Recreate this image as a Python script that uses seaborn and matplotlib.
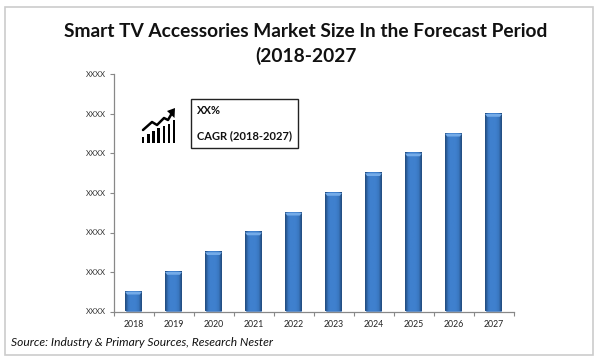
import numpy as np
import pandas as pd
import seaborn as sns
import matplotlib
matplotlib.use("Agg")
from matplotlib import pyplot as plt
from matplotlib.patches import Rectangle, Polygon

years = ["2018", "2019", "2020", "2021", "2022", "2023", "2024", "2025", "2026", "2027"]
values = [0.5, 1.0, 1.5, 2.0, 2.5, 3.0, 3.5, 4.0, 4.5, 5.0]
y_ticks = [0, 1, 2, 3, 4, 5, 6]
y_labels = ["XXXX"] * 7
title = "Smart TV Accessories Market Size In the Forecast Period\n(2018-2027"
source = "Source: Industry & Primary Sources, Research Nester"
cagr_value = "XX%"
cagr_label = "CAGR (2018-2027)"

W, H = 600, 363

sns.set_theme(style="white")
plt.rcParams["font.family"] = ["Lato", "DejaVu Sans"]

fig = plt.figure(figsize=(W / 100, H / 100), dpi=100, facecolor="white")

# plot area, pixel box
ax = fig.add_axes([113.5 / W, 1 - 311.5 / H, 400 / W, 237 / H])
data = pd.DataFrame({"year": years, "value": values})
sns.barplot(data, x="year", y="value", color="#3B78C4", width=0.42, saturation=1, ax=ax)
ax.set_xlim(-0.5, 9.5)
ax.set_ylim(0, 6)
ax.set_xlabel("")
ax.set_ylabel("")
ax.set_yticks(y_ticks, y_labels)
ax.set_xticks(np.arange(-0.5, 10), minor=True)
ax.tick_params(axis="y", length=3, width=0.8, color="#888888", labelsize=5.6, labelcolor="#333333", pad=2.5, left=True)
ax.tick_params(axis="x", which="major", length=0, labelsize=6.3, labelcolor="#222222", pad=6)
ax.tick_params(axis="x", which="minor", length=3, width=0.8, color="#888888", bottom=True)
for side in ["top", "right"]:
    ax.spines[side].set_visible(False)
for side in ["left", "bottom"]:
    ax.spines[side].set_color("#888888")
    ax.spines[side].set_linewidth(0.9)

# bevelled look on each bar
shade = np.array([[0.0, 0.55, 0.85, 1.0, 1.0, 1.0, 1.0, 0.95, 0.85, 0.6, 0.0]])
cmap = matplotlib.colors.LinearSegmentedColormap.from_list("bar", ["#234F84", "#3F80CE"])
for bar in list(ax.patches):
    x0, w, h = bar.get_x(), bar.get_width(), bar.get_height()
    ax.imshow(shade, extent=(x0, x0 + w, 0, h), aspect="auto", cmap=cmap, vmin=0, vmax=1, zorder=3)
    cap = 0.07
    ins = w * 0.12
    ax.add_patch(Polygon([(x0, h), (x0 + w, h), (x0 + w - ins, h - cap), (x0 + ins, h - cap)],
                         facecolor="#74ABE8", edgecolor="none", zorder=4))
ax.set_xlim(-0.5, 9.5)
ax.set_ylim(0, 6)

# overlay in image pixels for the frame, title, box and icon
over = fig.add_axes([0, 0, 1, 1], facecolor="none")
over.set_xlim(0, W)
over.set_ylim(H, 0)
over.axis("off")
over.add_patch(Rectangle((4.5, 7), 588.5, 348, fill=False, edgecolor="#CCCCCC", linewidth=1.2))
over.text(306, 44, title, ha="center", va="center", fontsize=13.8, fontweight="bold", color="#111111", linespacing=1.45)
over.text(11, 343, source, ha="left", va="center", fontsize=8.65, style="italic", color="#111111")

over.add_patch(Rectangle((190.5, 99), 107.5, 49, fill=False, edgecolor="#222222", linewidth=1))
over.text(197, 110.5, cagr_value, ha="left", va="center", fontsize=8, fontweight="bold", color="#111111")
over.text(197, 136, cagr_label, ha="left", va="center", fontsize=8, fontweight="bold", color="#111111")

# CAGR icon
for bx, by in zip([141.5, 147, 152, 157, 162.5, 167.5, 172.5], [137, 134, 131, 128, 126, 124, 120]):
    over.add_patch(Rectangle((bx, by), 2.6, 142.7 - by, facecolor="black", edgecolor="none"))
over.plot([143, 152, 157, 164, 168, 172], [130, 122, 125, 118, 120, 113], color="black", linewidth=1.8)
over.add_patch(Polygon([(175, 108), (174.5, 118), (167, 111)], facecolor="black", edgecolor="none"))

fig.savefig("out.png", dpi=100)
